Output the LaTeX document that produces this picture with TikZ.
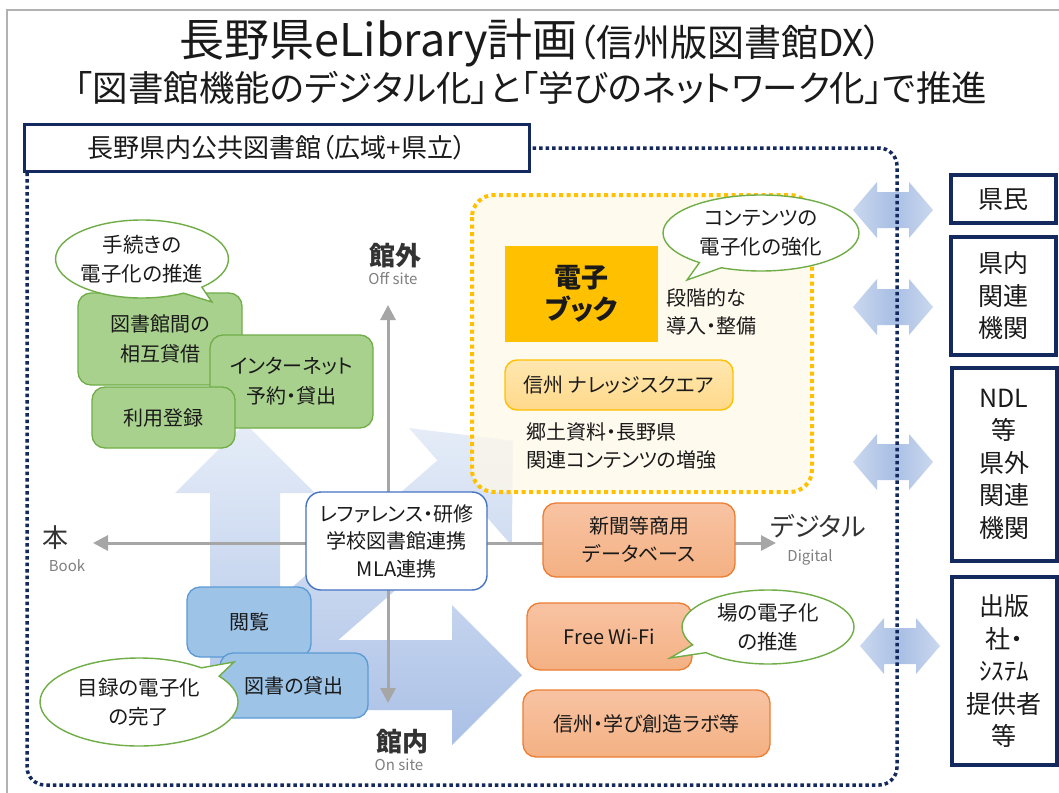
\documentclass[tikz,border=0pt]{standalone}
\usepackage{fontspec}
\setmainfont[RawFeature=+palt]{Noto Sans CJK JP}
\newfontfamily\jpp[RawFeature=+palt]{Noto Sans CJK JP}
\usetikzlibrary{shapes.callouts,arrows.meta}
\definecolor{navy}{HTML}{14295E}
\definecolor{txt}{HTML}{1A1A1A}
\definecolor{dk}{HTML}{333333}
\definecolor{gry}{HTML}{7F7F7F}
\definecolor{axc}{HTML}{A6A6A6}
\definecolor{grnB}{HTML}{70AD47}
\definecolor{grnF}{HTML}{A9D18E}
\definecolor{bluB}{HTML}{5B9BD5}
\definecolor{bluF}{HTML}{9DC3E6}
\definecolor{refB}{HTML}{4472C4}
\definecolor{orgB}{HTML}{ED7D31}
\definecolor{orgF}{HTML}{F4B183}
\definecolor{orgT}{HTML}{F8C3A3}
\definecolor{gold}{HTML}{FFC000}
\definecolor{kyF}{HTML}{FFD98A}
\definecolor{kyT}{HTML}{FFE7B0}
\definecolor{cream}{HTML}{FFF8E8}
\definecolor{bgT}{HTML}{E6EDF8}
\definecolor{bgB}{HTML}{AAC0E6}
\definecolor{dA}{HTML}{CAD8EF}
\definecolor{dB}{HTML}{A9BFE4}
\newcommand{\fsz}[2]{\fontsize{#1}{#2}\selectfont}
\newcommand{\dblarr}[2]{\shade[left color=dA, right color=dA, middle color=dB] (#1,#2) ++(-40,0) -- ++(24,-28) -- ++(0,10) -- ++(32,0) -- ++(0,-10) -- ++(24,28) -- ++(-24,28) -- ++(0,-10) -- ++(-32,0) -- ++(0,10) -- cycle;}
\begin{document}
\begin{tikzpicture}[x=1pt,y=-1pt,
  every node/.style={inner sep=0pt, text=txt},
  gbox/.style={draw=grnB, fill=grnF, line width=1.3pt, rounded corners=13pt, align=center, font=\fsz{20}{30}},
  bbox/.style={draw=bluB, fill=bluF, line width=1.3pt, rounded corners=13pt, align=center, font=\fsz{20}{28}},
  obox/.style={draw=orgB, top color=orgT, bottom color=orgF, line width=1.3pt, rounded corners=13pt, align=center, font=\fsz{20}{28}},
  rbox/.style={draw=navy, fill=white, line width=4pt, align=center, font=\fsz{25}{32.5}},
  call/.style={ellipse callout, draw=grnB, fill=white, line width=1.4pt, align=center, font=\fsz{20.5}{29}},
  axis/.style={draw=axc, line width=3pt, {Triangle[width=15pt,length=15pt]}-{Triangle[width=15pt,length=15pt]}},
  lbl/.style={font=\fsz{26}{30}, text=dk},
  sublbl/.style={font=\fsz{15}{18}, text=gry},
  plain/.style={align=left, font=\fsz{20}{28}}
]
\useasboundingbox (0,0) rectangle (1059,792);
\fill[white] (0,0) rectangle (1059,792);
% outer thin frame
\draw[gray!60, line width=1.2pt] (7,800) -- (7,10) -- (1070,10);

% titles
\node (t1) at (531,43) {\fsz{45}{50}長野県eLibrary計画\fsz{37}{50}（信州版図書館DX）};
\node (t2) at (531,88) {\fsz{35.5}{44}「図書館機能のデジタル化」と「学びのネットワーク化」で推進};

% background block arrows
\shade[top color=bgT, bottom color=bgB]
  (210,710) -- (210,493) -- (175,493) -- (245,423) -- (315,493) -- (280,493) -- (280,710) -- cycle
  (210,640) -- (452,640) -- (452,605) -- (522,675) -- (452,745) -- (452,710) -- (210,710) -- cycle
  (222.0,648.6) -- (437.4,460.4) -- (409.1,428.1) -- (513.1,440.8) -- (511.7,545.5) -- (483.4,513.2) -- (268.0,701.4) -- cycle;

% right double arrows
\dblarr{893}{210}
\dblarr{893}{307}
\dblarr{893}{462}
\dblarr{900}{646}

% navy dotted region
\draw[navy, line width=3.5pt, dash pattern=on 3.5pt off 3pt, rounded corners=18pt] (27,148) rectangle (897,785);

% header box
\node[draw=navy, fill=white, line width=3.5pt, minimum width=505, minimum height=47, font=\fsz{26}{30}] (hdr) at (277,148) {長野県内公共図書館（広域+県立）};

% right boxes
\node[rbox, minimum width=105, minimum height=48] (r1) at (1003,199) {県民};
\node[rbox, minimum width=105, minimum height=118] (r2) at (1003,296) {県内\\関連\\機関};
\node[rbox, minimum width=105, minimum height=193] (r3) at (1004,464) {NDL\\等\\県外\\関連\\機関};
\node[rbox, minimum width=105, minimum height=188] (r4) at (1004,671) {出版\\社・\\ｼｽﾃﾑ\\提供者\\等};

% yellow dotted region
\fill[cream, fill opacity=0.7, rounded corners=22pt] (472,195) rectangle (812,492);
\draw[gold, line width=4pt, dash pattern=on 4pt off 3.5pt, rounded corners=22pt] (472,195) rectangle (812,492);

% axes
\coordinate (axL) at (93,543);
\coordinate (axR) at (776,543);
\coordinate (axT) at (388,305);
\coordinate (axB) at (388,703);
\draw[axis] (axL) -- (axR);
\draw[axis] (axT) -- (axB);

% axis labels
\node[lbl, font=\fsz{26}{30}\bfseries] (kgai) at (395,256) {館外};
\node[sublbl] (offs) at (393,279) {Off site};
\node[lbl] (hon) at (55,538) {本};
\node[sublbl] (book) at (67,566) {Book};
\node[lbl] (dig) at (818,526) {デジタル};
\node[sublbl] (digen) at (810,557) {Digital};
\node[lbl, font=\fsz{26}{30}\bfseries] (knai) at (402,742) {館内};
\node[sublbl] (ons) at (399,765) {On site};

% green boxes
\node[gbox, minimum width=164, minimum height=92] (g1) at (160,339) {図書館間の\\相互貸借};
\node[gbox, minimum width=163, minimum height=93] (g2) at (291.5,381.5) {インターネット\\予約・貸出};
\node[gbox, minimum width=143, minimum height=61] (g3) at (163.5,417.5) {利用登録};

% blue boxes
\node[bbox, minimum width=124, minimum height=70] (b1) at (249,622) {閲覧};
\node[bbox, minimum width=148, minimum height=65] (b2) at (294,685.5) {図書の貸出};

% reference box
\node[draw=refB, fill=white, line width=1.4pt, rounded corners=15pt, minimum width=181, minimum height=98, align=center, font=\fsz{20}{27.5}] (ref) at (396.5,541) {レファレンス・研修\\学校図書館連携\\MLA連携};

% yellow region contents
\node[fill=gold, minimum width=153, minimum height=96, align=center, font=\fsz{27}{32}\bfseries] (eb) at (581.5,294) {電子\\ブック};
\node[plain, anchor=west] (dan) at (666,312) {段階的な\\導入・整備};
\node[draw=gold, top color=kyT, bottom color=kyF, line width=1.4pt, rounded corners=12pt, minimum width=228, minimum height=50, font=\fsz{20}{24}] (ks) at (619,385) {信州 ナレッジスクエア};
\node[plain, anchor=west] (kyo) at (526,446) {郷土資料・長野県\\関連コンテンツの増強};

% orange boxes
\node[obox, minimum width=192, minimum height=74] (o1) at (639,540) {新聞等商用\\データベース};
\node[obox, minimum width=165, minimum height=67] (o2) at (609.5,636.5) {Free Wi-Fi};
\node[obox, minimum width=247, minimum height=67] (o3) at (646.5,723.5) {信州・学び創造ラボ等};

% callouts
\node[call, minimum width=172, minimum height=78, callout absolute pointer={(212,302)}] (c1) at (142,259) {手続きの\\電子化の推進};
\node[call, minimum width=198, minimum height=88, callout absolute pointer={(234,662)}] (c2) at (139,702) {目録の電子化\\の完了};
\node[call, minimum width=196, minimum height=76, callout absolute pointer={(687,280)}] (c3) at (761,233) {コンテンツの\\電子化の強化};
\node[call, minimum width=172, minimum height=74, callout absolute pointer={(670,658)}] (c4) at (768,627) {場の電子化\\の推進};
\end{tikzpicture}
\end{document}
